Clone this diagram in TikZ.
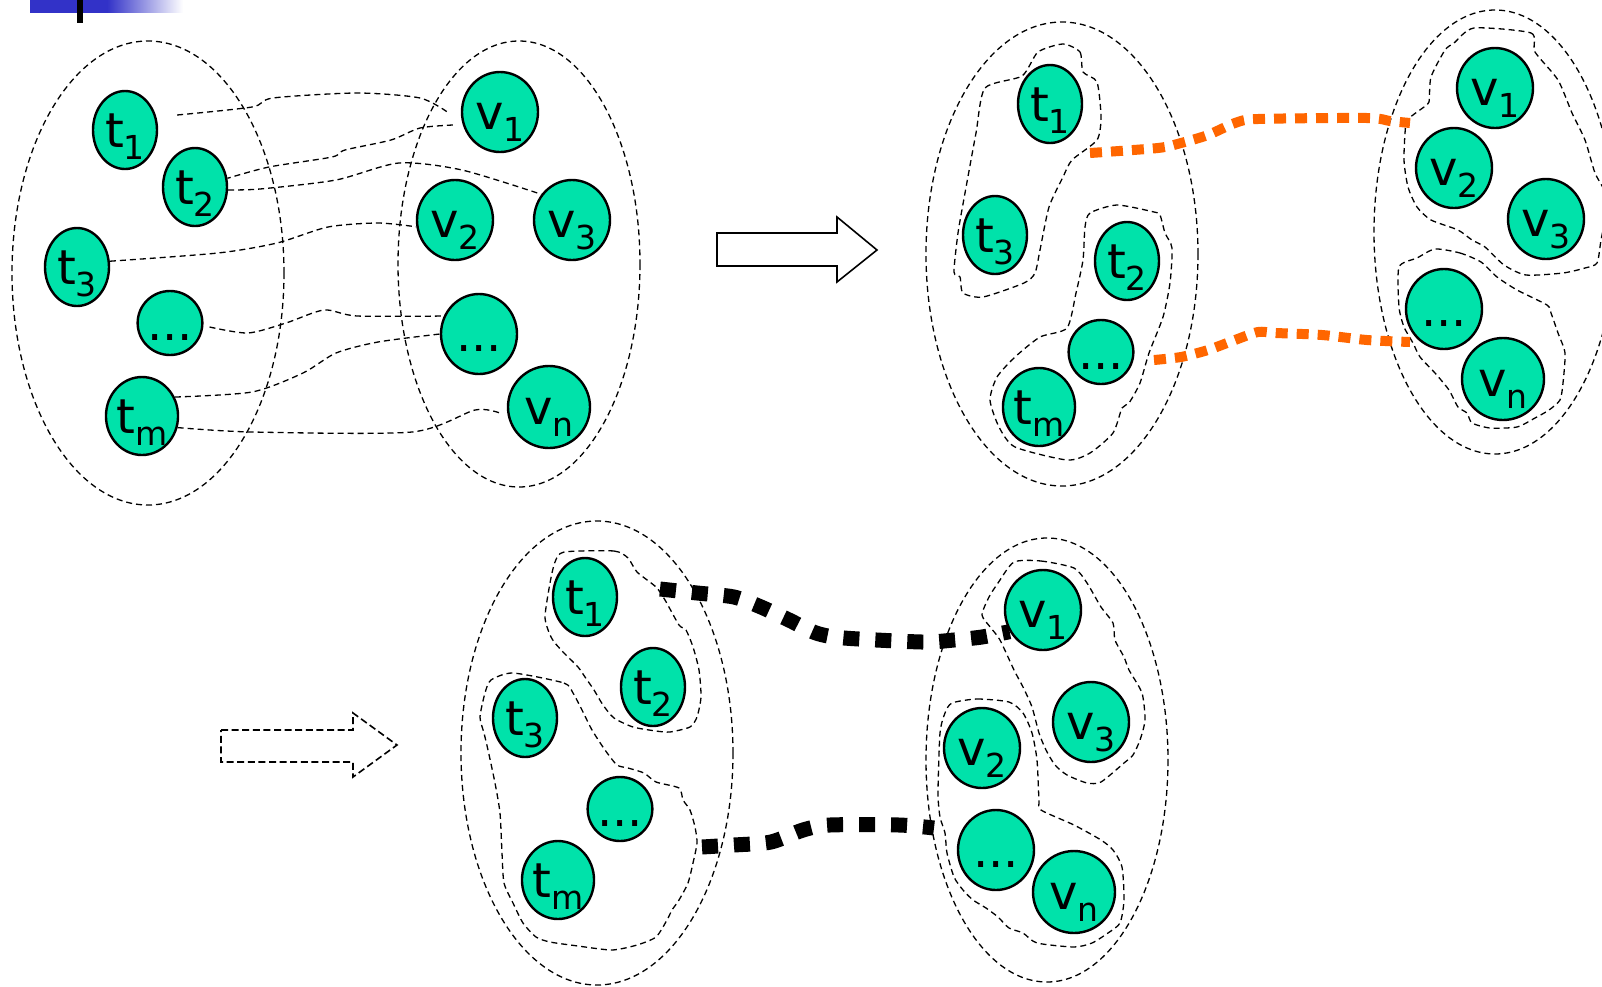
\documentclass[tikz,border=0pt]{standalone}
\usepackage{fontspec}
\setmainfont{DejaVu Sans}
\usetikzlibrary{shapes.geometric}

\definecolor{nodefill}{RGB}{0,226,170}
\definecolor{barblue}{RGB}{50,50,200}
\definecolor{linkorange}{RGB}{255,102,0}

% element label: letter with a lowered, smaller index
\newcommand{\lowsub}[1]{\raisebox{-6pt}{\fontsize{16.5}{16.5}\selectfont #1}}
\newcommand{\elab}[2]{#1\lowsub{#2}}

\tikzset{
  elem/.style={ellipse, draw=black, line width=1.2pt, fill=nodefill, inner sep=0pt,
    font=\fontsize{24}{24}\selectfont, text height=19.5pt, text depth=2pt},
  tel/.style={elem, minimum width=32pt, minimum height=39pt},
  tdots/.style={elem, minimum width=32pt, minimum height=32pt},
  vel/.style={elem, minimum width=38pt, minimum height=40pt},
  vbig/.style={elem, minimum width=41pt, minimum height=41pt},
  thindash/.style={line width=0.65pt, dash pattern=on 3pt off 2pt},
  link/.style={thindash},
  orangelink/.style={draw=linkorange, line width=5pt, dash pattern=on 6pt off 4.5pt},
  blacklink/.style={draw=black, line width=7.5pt, dash pattern=on 8pt off 8pt},
  bigarrow/.style={draw=black, line width=0.8pt, fill=white},
  dasharrow/.style={draw=black, line width=0.8pt, dash pattern=on 3.5pt off 1.8pt},
}

\begin{document}
\begin{tikzpicture}[x=0.5pt, y=-0.5pt]
\useasboundingbox (0,0) rectangle (1602,986);

% header bar
\fill[barblue] (30,0) rectangle (107,12.7);
\shade[left color=barblue, right color=white] (107,0) rectangle (183,12.7);
\fill[black] (77,0) rectangle (83,23);

% ---------------- first stage: all candidate links ----------------
\draw[thindash] (148,273) ellipse [x radius=136, y radius=232];
\draw[thindash] (519,264) ellipse [x radius=121, y radius=223];

\node[tel]   (a-t1) at (125,130) {\elab{t}{1}};
\node[tel]   (a-t2) at (195,187) {\elab{t}{2}};
\node[tel]   (a-t3) at (77,267)  {\elab{t}{3}};
\node[tdots] (a-td) at (170,323) {...};
\node[tel, minimum width=34pt] (a-tm) at (142,416) {\elab{t}{m}};
\node[vel]   (a-v1) at (500,112) {\elab{v}{1}};
\node[vel]   (a-v2) at (455,220) {\elab{v}{2}};
\node[vel]   (a-v3) at (572,220) {\elab{v}{3}};
\node[vel]   (a-vd) at (479,334) {...};
\node[vbig]  (a-vn) at (549,407) {\elab{v}{n}};

\coordinate (a-s1) at ([shift={(19,-15)}]a-t1.east);
\coordinate (a-e1) at ([shift={(-12,1)}]a-v1.west);
\coordinate (a-s2) at ([shift={(-8,13)}]a-v1.west);
\coordinate (a-s5) at ([shift={(6,4)}]a-td.east);
\coordinate (a-e7) at ([shift={(-7,6)}]a-vn.west);

\draw[link] plot[smooth, tension=0.45] coordinates
  {(a-s1) (252,107) (273,98) (357,93) (420,98) (a-e1)};
\draw[link] plot[smooth, tension=0.45] coordinates
  {(a-s2) (420,128) (391,140) (345,150) (332,157) (269,167) (a-t2.15)};
\draw[link] plot[smooth, tension=0.45] coordinates
  {(a-t2.-5) (260,189) (336,180) (399,163) (462,170) (a-v3.140)};
\draw[link] plot[smooth, tension=0.45] coordinates
  {(a-t3.10) (218,253) (277,243) (328,227) (378,223) (a-v2.190)};
\draw[link] plot[smooth, tension=0.45] coordinates
  {(a-s5) (248,333) (286,323) (324,310) (357,316) (a-vd.153)};
\draw[link] plot[smooth, tension=0.45] coordinates
  {(a-tm.30) (252,392) (303,373) (336,353) (378,342) (a-vd.west)};
\draw[link] plot[smooth, tension=0.45] coordinates
  {(a-tm.-18) (252,432) (412,432) (475,410) (a-e7)};

% step arrow
\draw[bigarrow] (717,233) -- (837,233) -- (837,217) -- (877,250)
  -- (837,282) -- (837,266) -- (717,266) -- cycle;

% ---------------- second stage: grouped sets ----------------
\draw[thindash] (1062,254) ellipse [x radius=136, y radius=232];
\draw[thindash] (1495,232) ellipse [x radius=121, y radius=222];

\draw[thindash] plot[smooth cycle, tension=0.4] coordinates {
  (1063,44) (1080,52) (1083,72) (1097,82) (1101,117) (1097,140) (1072,160)
  (1063,177) (1049,207) (1040,250) (1035,273) (1024,283) (983,297) (963,293)
  (960,277) (954,272) (958,233) (965,193) (976,133) (985,88) (1022,76) (1038,52)};
\draw[thindash] plot[smooth cycle, tension=0.4] coordinates {
  (1117,205) (1090,213) (1085,227) (1083,260) (1076,293) (1067,328) (1040,337)
  (1015,357) (997,377) (990,400) (999,427) (1015,447) (1067,460) (1090,453)
  (1113,433) (1122,408) (1129,403) (1140,383) (1149,353) (1163,317) (1170,283)
  (1172,248) (1165,233) (1160,215) (1154,212)};
\draw[thindash] plot[smooth cycle, tension=0.4] coordinates {
  (1474,28) (1531,33) (1535,52) (1558,80) (1572,113) (1585,140) (1595,173)
  (1608,200) (1601,240) (1597,263) (1585,268) (1563,273) (1526,275) (1504,265)
  (1485,247) (1472,240) (1458,230) (1431,220) (1417,207) (1408,187) (1404,160)
  (1406,123) (1413,115) (1424,107) (1429,102) (1431,77) (1445,50) (1454,43)};
\draw[thindash] plot[smooth cycle, tension=0.4] coordinates {
  (1435,249) (1460,253) (1481,262) (1497,277) (1517,290) (1547,305) (1551,313)
  (1558,333) (1565,353) (1563,383) (1560,400) (1549,410) (1535,418) (1517,427)
  (1490,428) (1472,423) (1467,413) (1458,407) (1449,390) (1435,373) (1420,357)
  (1413,343) (1404,327) (1399,307) (1399,267) (1417,258)};

\node[tel]   (b-t1) at (1050,104) {\elab{t}{1}};
\node[tel]   (b-t3) at (995,235)  {\elab{t}{3}};
\node[tel]   (b-t2) at (1127,261) {\elab{t}{2}};
\node[tdots] (b-td) at (1101,352) {...};
\node[tel, minimum width=34pt] (b-tm) at (1039,407) {\elab{t}{m}};
\node[vel]   (b-v1) at (1495,88)  {\elab{v}{1}};
\node[vel]   (b-v2) at (1454,168) {\elab{v}{2}};
\node[vel]   (b-v3) at (1546,219) {\elab{v}{3}};
\node[vel]   (b-vd) at (1444,309) {...};
\node[vbig]  (b-vn) at (1503,379) {\elab{v}{n}};

\coordinate (b-oa) at (1090,153);
\coordinate (b-ob) at (1410,123);
\coordinate (b-oc) at (1154,360);
\coordinate (b-od) at (1410,342);

\draw[orangelink] plot[smooth, tension=0.45] coordinates
  {(b-oa) (1158,148) (1181,143) (1208,135) (1235,123) (1258,119) (1367,118) (1390,121) (b-ob)};
\draw[orangelink] plot[smooth, tension=0.45] coordinates
  {(b-oc) (1181,357) (1208,350) (1235,340) (1258,332) (1276,333) (1322,335) (1367,340) (b-od)};

% step arrow (dashed)
\draw[dasharrow] (221,730) -- (353,730) -- (353,713) -- (397,745)
  -- (353,777) -- (353,762) -- (221,762) -- cycle;

% ---------------- third stage: refined sets ----------------
\draw[thindash] (597,753) ellipse [x radius=136, y radius=232];
\draw[thindash] (1047,760) ellipse [x radius=121, y radius=222];

\draw[thindash] plot[smooth cycle, tension=0.4] coordinates {
  (564,552) (614,551) (628,558) (637,572) (656,587) (665,600) (679,625) (686,630)
  (693,647) (699,670) (701,697) (697,717) (690,727) (670,732) (656,731) (633,727)
  (614,718) (603,705) (594,690) (585,677) (578,667) (564,653) (555,643) (550,635)
  (545,617) (550,583) (555,562)};
\draw[thindash] plot[smooth cycle, tension=0.4] coordinates {
  (513,673) (564,683) (573,693) (582,710) (592,730) (605,750) (617,765) (628,768)
  (644,773) (656,782) (679,788) (683,800) (690,810) (695,827) (697,843) (693,863)
  (688,883) (679,900) (672,910) (667,920) (656,937) (637,945) (612,950) (578,946)
  (550,942) (536,937) (523,923) (513,903) (504,883) (502,853) (500,813) (495,783)
  (488,750) (484,733) (480,717) (485,693) (491,680)};
\draw[thindash] plot[smooth cycle, tension=0.4] coordinates {
  (1014,562) (1041,561) (1074,568) (1087,583) (1101,607) (1113,623) (1115,640)
  (1124,657) (1129,670) (1142,693) (1145,720) (1140,740) (1133,755) (1124,763)
  (1101,782) (1087,783) (1067,775) (1055,765) (1046,750) (1039,733) (1032,707)
  (1023,687) (1014,670) (1000,640) (991,628) (982,615) (989,597) (998,583)};
\draw[thindash] plot[smooth cycle, tension=0.4] coordinates {
  (952,703) (977,699) (1009,702) (1023,713) (1032,733) (1037,760) (1039,800)
  (1041,810) (1074,825) (1101,840) (1113,850) (1122,867) (1124,900) (1120,923)
  (1108,933) (1092,943) (1074,947) (1037,943) (1023,933) (1009,928) (998,917)
  (986,908) (973,900) (963,890) (954,877) (947,853) (945,833) (940,817) (938,793)
  (940,733) (945,713)};

\node[tel]   (c-t1) at (585,597) {\elab{t}{1}};
\node[tel]   (c-t2) at (653,687) {\elab{t}{2}};
\node[tel]   (c-t3) at (525,718) {\elab{t}{3}};
\node[tdots] (c-td) at (620,809) {...};
\node[tel, minimum width=34pt] (c-tm) at (558,880) {\elab{t}{m}};
\node[vel]   (c-v1) at (1043,610) {\elab{v}{1}};
\node[vel]   (c-v3) at (1091,722) {\elab{v}{3}};
\node[vel]   (c-v2) at (982,748)  {\elab{v}{2}};
\node[vel]   (c-vd) at (996,850)  {...};
\node[vbig]  (c-vn) at (1074,892) {\elab{v}{n}};

\coordinate (c-ka) at (660,589);
\coordinate (c-kb) at (702,847);
\coordinate (c-kc) at (934,828);

\draw[blacklink] plot[smooth, tension=0.45] coordinates
  {(c-ka) (697,593) (734,597) (761,607) (789,620) (816,633) (844,638) (922,642) (954,640) (982,637) (c-v1.213)};
\draw[blacklink] plot[smooth, tension=0.45] coordinates
  {(c-kb) (734,845) (771,842) (803,830) (830,825) (899,825) (c-kc)};

\end{tikzpicture}
\end{document}
